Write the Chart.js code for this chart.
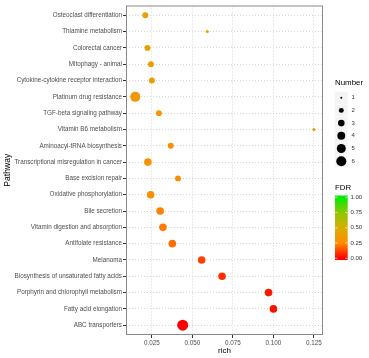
<!DOCTYPE html>
<html>
<head>
<meta charset="utf-8">
<script src="https://cdn.jsdelivr.net/npm/chart.js@4.4.1/dist/chart.umd.min.js"></script>
<style>
  html, body { margin: 0; padding: 0; background: #fff; }
  #wrap { width: 369px; height: 358px; }
</style>
</head>
<body>
<div id="wrap"><canvas id="myChart" width="369" height="358"></canvas></div>
<script>
// pathways, top to bottom
const pathways = [
  'Osteoclast differentiation',
  'Thiamine metabolism',
  'Colorectal cancer',
  'Mitophagy - animal',
  'Cytokine-cytokine receptor interaction',
  'Platinum drug resistance',
  'TGF-beta signaling pathway',
  'Vitamin B6 metabolism',
  'Aminoacyl-tRNA biosynthesis',
  'Transcriptional misregulation in cancer',
  'Base excision repair',
  'Oxidative phosphorylation',
  'Bile secretion',
  'Vitamin digestion and absorption',
  'Antifolate resistance',
  'Melanoma',
  'Biosynthesis of unsaturated fatty acids',
  'Porphyrin and chlorophyll metabolism',
  'Fatty acid elongation',
  'ABC transporters'
];
const rich   = [0.0209, 0.0592, 0.0223, 0.0244, 0.0250, 0.0147, 0.0293, 0.1250, 0.0366, 0.0225,
                0.0411, 0.0242, 0.0301, 0.0318, 0.0376, 0.0557, 0.0683, 0.0970, 0.1000, 0.0440];
const number = [2, 1, 2, 2, 2, 5, 2, 1, 2, 3,
                2, 3, 3, 3, 3, 3, 3, 3, 3, 6];
const fdr    = [0.38, 0.38, 0.37, 0.37, 0.37, 0.33, 0.32, 0.38, 0.27, 0.30,
                0.28, 0.28, 0.23, 0.22, 0.20, 0.11, 0.08, 0.04, 0.03, 0.00];

const xTicks = [0.025, 0.050, 0.075, 0.100, 0.125];
const numberLegend = [1, 2, 3, 4, 5, 6];
const fdrTicks = [1.00, 0.75, 0.50, 0.25, 0.00];

const FONT = '"Liberation Sans", Arial, sans-serif';

// red -> orange -> gold -> green, like the FDR bar
const gradStops = [
  [0.00, [255, 0, 0]],
  [0.25, [255, 140, 0]],
  [0.50, [215, 175, 0]],
  [0.75, [140, 200, 0]],
  [1.00, [0, 235, 0]]
];
function fdrColor(v) {
  for (let i = 1; i < gradStops.length; i++) {
    if (v <= gradStops[i][0]) {
      const [t0, c0] = gradStops[i - 1], [t1, c1] = gradStops[i];
      const f = (v - t0) / (t1 - t0);
      const c = c0.map((x, k) => Math.round(x + (c1[k] - x) * f));
      return 'rgb(' + c.join(',') + ')';
    }
  }
  return 'rgb(0,235,0)';
}
// area-proportional sizes like scale_size
function rad(n) {
  return 0.8 * Math.sqrt(1 + (n - 1) * 7) + 0.7;
}

const legendsPlugin = {
  id: 'legends',
  beforeDatasetsDraw(chart) {
    const c = chart.ctx, a = chart.chartArea;
    c.save();
    c.strokeStyle = '#8a8a8a';
    c.lineWidth = 1;
    c.strokeRect(a.left + 0.5, a.top + 0.5, a.right - a.left - 1, a.bottom - a.top - 1);
    c.restore();
  },
  afterDraw(chart) {
    const c = chart.ctx;
    c.save();
    c.textBaseline = 'middle';
    c.textAlign = 'left';
    // size legend
    c.fillStyle = '#000';
    c.font = '7.9px ' + FONT;
    c.fillText('Number', 335, 83);
    c.font = '6px ' + FONT;
    numberLegend.forEach((n, i) => {
      const y = 97.7 + i * 12.7;
      c.fillStyle = '#f4f4f4';
      c.fillRect(335, y - 6, 12.5, 12);
      c.fillStyle = '#000';
      c.beginPath();
      c.arc(341.3, y, rad(n) - 0.5, 0, Math.PI * 2);
      c.fill();
      c.fillStyle = '#333';
      c.fillText(String(n), 351.5, y);
    });
    // colour bar
    c.fillStyle = '#000';
    c.font = '7.9px ' + FONT;
    c.fillText('FDR', 335, 187.5);
    const y0 = 258.3, y1 = 197.3;
    const g = c.createLinearGradient(0, y0, 0, y1);
    gradStops.forEach(s => g.addColorStop(s[0], 'rgb(' + s[1].join(',') + ')'));
    c.fillStyle = g;
    c.fillRect(335, 195.5, 12.7, 64.5);
    c.font = '6px ' + FONT;
    fdrTicks.forEach(v => {
      const y = y0 + (y1 - y0) * v;
      c.strokeStyle = '#fff';
      c.lineWidth = 0.6;
      c.beginPath(); c.moveTo(335, y); c.lineTo(337.5, y); c.moveTo(345.2, y); c.lineTo(347.7, y); c.stroke();
      c.fillStyle = '#333';
      c.fillText(v.toFixed(2), 350.5, y);
    });
    c.restore();
  }
};

const ctx = document.getElementById('myChart');
new Chart(ctx, {
  type: 'scatter',
  data: {
    datasets: [{
      data: pathways.map((p, i) => ({ x: rich[i], y: i })),
      pointRadius: number.map(rad),
      pointHoverRadius: number.map(rad),
      pointBackgroundColor: fdr.map(fdrColor),
      pointBorderWidth: 0,
      borderWidth: 0
    }]
  },
  options: {
    responsive: false,
    animation: false,
    events: [],
    layout: { padding: { top: 3, right: 46, left: 0, bottom: 0 } },
    plugins: { legend: { display: false }, tooltip: { enabled: false } },
    scales: {
      x: {
        type: 'linear',
        min: 0.009,
        max: 0.1306,
        afterBuildTicks: s => { s.ticks = xTicks.map(v => ({ value: v })); },
        afterFit: s => { s.height = 23; },
        ticks: {
          callback: v => Number(v).toFixed(3),
          color: '#4d4d4d',
          font: { size: 6.3, family: FONT },
          padding: 1,
          maxRotation: 0,
          autoSkip: false
        },
        grid: { color: '#d6d6d6', lineWidth: 1, tickColor: '#333', tickLength: 3, tickWidth: 1 },
        border: { display: false, dash: [1, 2] },
        title: { display: true, text: 'rich', color: '#000', font: { size: 8, family: FONT }, padding: { top: 0, bottom: 2.5 } }
      },
      y: {
        type: 'linear',
        min: -0.6,
        max: pathways.length - 0.4,
        reverse: true,
        afterBuildTicks: s => { s.ticks = pathways.map((p, i) => ({ value: i })); },
        afterFit: s => { s.width = 126; },
        ticks: {
          callback: v => pathways[Math.round(v)],
          color: '#4d4d4d',
          font: { size: 6.3, family: FONT },
          padding: 1,
          autoSkip: false
        },
        grid: { color: '#d6d6d6', lineWidth: 1, tickColor: '#333', tickLength: 3, tickWidth: 1 },
        border: { display: false, dash: [1, 2] },
        title: { display: true, text: 'Pathway', color: '#000', font: { size: 8.6, family: FONT }, padding: { top: 2, bottom: 0 } }
      }
    }
  },
  plugins: [legendsPlugin]
});
</script>
</body>
</html>
